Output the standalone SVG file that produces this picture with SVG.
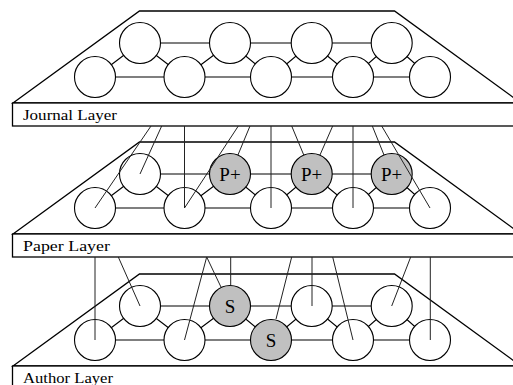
<svg xmlns="http://www.w3.org/2000/svg" xmlns:xlink="http://www.w3.org/1999/xlink" width="513" height="385" viewBox="0 0 513 385">
<style>
.trap{fill:none;stroke:#000;stroke-width:1.3}
.box{fill:#fff;stroke:#000;stroke-width:1.3}
.lbl{font-family:"Liberation Serif","Times New Roman",serif;font-size:15px;fill:#000}
.edge{stroke:#000;stroke-width:1.1;fill:none}
.n{fill:#fff;stroke:#000;stroke-width:1.1}
.g{fill:#c0c0c0;stroke:#000;stroke-width:1.1}
.nt{font-family:"Liberation Serif","Times New Roman",serif;font-size:19px;fill:#000;text-anchor:middle}
.con{stroke:#222;stroke-width:1;fill:none}
</style>
<defs>
<g id="layerShape">
<polygon class="trap" points="13,103 139.5,11 394.5,11 521,103"/>
<rect class="box" x="12.5" y="103" width="505" height="23"/>
</g>
<g id="layerEdges">
<path class="edge" d="M140,43H391.7 M95,77H430 M95,77L140,43L184.5,77L230,43L271,77L311.7,43L353,77L391.7,43L430,77"/>
</g>
</defs>
<g id="journal-layer">
<use xlink:href="#layerShape"/>
<text class="lbl" x="23" y="120" textLength="94" lengthAdjust="spacingAndGlyphs">Journal Layer</text>
</g>
<g id="paper-layer" transform="translate(0,131)">
<use xlink:href="#layerShape"/>
<text class="lbl" x="23" y="120" textLength="87" lengthAdjust="spacingAndGlyphs">Paper Layer</text>
</g>
<g id="author-layer" transform="translate(0,263)">
<use xlink:href="#layerShape"/>
<text class="lbl" x="23" y="120" textLength="90" lengthAdjust="spacingAndGlyphs">Author Layer</text>
</g>
<g id="layer-edges">
<use xlink:href="#layerEdges"/>
<use xlink:href="#layerEdges" transform="translate(0,131)"/>
<use xlink:href="#layerEdges" transform="translate(0,263)"/>
</g>
<!-- Journal nodes -->
<g id="j-t0"><circle class="n" cx="140" cy="43" r="20.5"/></g>
<g id="j-t1"><circle class="n" cx="230" cy="43" r="20.5"/></g>
<g id="j-t2"><circle class="n" cx="311.7" cy="43" r="20.5"/></g>
<g id="j-t3"><circle class="n" cx="391.7" cy="43" r="20.5"/></g>
<g id="j-b0"><circle class="n" cx="95" cy="77" r="20.5"/></g>
<g id="j-b1"><circle class="n" cx="184.5" cy="77" r="20.5"/></g>
<g id="j-b2"><circle class="n" cx="271" cy="77" r="20.5"/></g>
<g id="j-b3"><circle class="n" cx="353" cy="77" r="20.5"/></g>
<g id="j-b4"><circle class="n" cx="430" cy="77" r="20.5"/></g>
<!-- Paper nodes -->
<g id="p-t0"><circle class="n" cx="140" cy="174" r="20.5"/></g>
<g id="p-t1"><circle class="g" cx="230" cy="174" r="20.5"/><text class="nt" x="230" y="180.5">P+</text></g>
<g id="p-t2"><circle class="g" cx="311.7" cy="174" r="20.5"/><text class="nt" x="311.7" y="180.5">P+</text></g>
<g id="p-t3"><circle class="g" cx="391.7" cy="174" r="20.5"/><text class="nt" x="391.7" y="180.5">P+</text></g>
<g id="p-b0"><circle class="n" cx="95" cy="208" r="20.5"/></g>
<g id="p-b1"><circle class="n" cx="184.5" cy="208" r="20.5"/></g>
<g id="p-b2"><circle class="n" cx="271" cy="208" r="20.5"/></g>
<g id="p-b3"><circle class="n" cx="353" cy="208" r="20.5"/></g>
<g id="p-b4"><circle class="n" cx="430" cy="208" r="20.5"/></g>
<!-- Author nodes -->
<g id="a-t0"><circle class="n" cx="140" cy="306" r="20.5"/></g>
<g id="a-t1"><circle class="g" cx="230" cy="306" r="20.5"/><text class="nt" x="230" y="312.5">S</text></g>
<g id="a-t2"><circle class="n" cx="311.7" cy="306" r="20.5"/></g>
<g id="a-t3"><circle class="n" cx="391.7" cy="306" r="20.5"/></g>
<g id="a-b0"><circle class="n" cx="95" cy="340" r="20.5"/></g>
<g id="a-b1"><circle class="n" cx="184.5" cy="340" r="20.5"/></g>
<g id="a-b2"><circle class="g" cx="271" cy="340" r="20.5"/><text class="nt" x="271" y="346.5">S</text></g>
<g id="a-b3"><circle class="n" cx="353" cy="340" r="20.5"/></g>
<g id="a-b4"><circle class="n" cx="430" cy="340" r="20.5"/></g>
<g id="connectors">
<path class="con" d="M151,126L95,208 M161.7,126L140,174 M184.5,126V208 M238.3,126L184.5,208 M250,126L237.9,155.1 M271,126V208 M291.7,126L303.8,155.1 M332.7,126L319.9,155.2 M353,126V208 M372.3,126L384,155 M381.7,126L430,208"/>
<path class="con" d="M95,257V340 M118.3,257L140,306 M206.7,257L184.5,340 M206.7,257L221.2,287.5 M230.7,257V285.5 M291.7,257L276,319.1 M312,257V306 M332.7,257L353,340 M410.7,257L391.7,306 M430.3,257V340"/>
</g>
</svg>
